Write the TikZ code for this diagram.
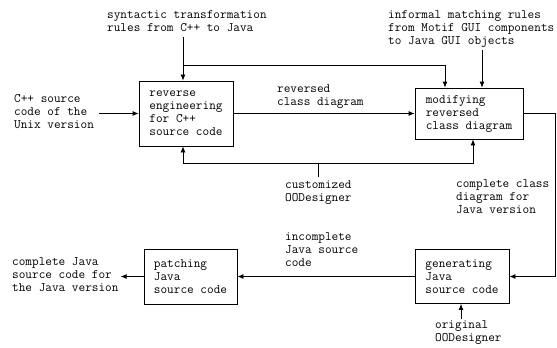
\documentclass[tikz,border=0pt]{standalone}
\usepackage{fontspec}
\usetikzlibrary{arrows.meta}
\begin{document}
\begin{tikzpicture}[x=1pt,y=-1pt,
  txt/.style={font=\ttfamily\fontsize{12.9}{13}\selectfont, align=left},
  lbl/.style={txt, inner sep=0pt, anchor=north west},
  box/.style={txt, draw, line width=0.8pt, inner sep=0pt},
  ln/.style={line width=0.8pt},
  arr/.style={ln, -{Latex[length=6pt,width=5pt]}}]
\path[use as bounding box, fill=white] (0,0) rectangle (557,348);

% boxes
\node[box, minimum width=94pt, minimum height=65pt] (b1) at (186,113.5) {reverse\\engineering\\for C++\\source code};
\node[box, minimum width=108pt, minimum height=51pt] (b2) at (469,113.5) {modifying\\reversed\\class diagram};
\node[box, minimum width=93pt, minimum height=55pt] (b3) at (190.5,276.5) {patching\\Java\\source code};
\node[box, minimum width=94pt, minimum height=54pt] (b4) at (462,276.5) {generating\\Java\\source code};

% labels
\node[lbl] (syn) at (107,10.5) {syntactic transformation\\rules from C++ to Java};
\node[lbl] (cpp) at (14,94.5) {C++ source\\code of the\\Unix version};
\node[lbl] (rev) at (277,84.5) {reversed\\class diagram};
\node[lbl] (inf) at (388,10.5) {informal matching rules\\from Motif GUI components\\to Java GUI objects};
\node[lbl] (cust) at (285,180.5) {customized\\OODesigner};
\node[lbl] (ccd) at (456,179.5) {complete class\\diagram for\\Java version};
\node[lbl] (inc) at (285,232.5) {incomplete\\Java source\\code};
\node[lbl] (orig) at (435,320.5) {original\\OODesigner};
\node[lbl] (out) at (12,257.5) {complete Java\\source code for\\the Java version};

% helper coordinates
\coordinate (xa) at (183,0);
\coordinate (xb) at (445,0);
\coordinate (xc) at (482,0);
\coordinate (j1) at (183,65);
\coordinate (jm) at (318,163);
\coordinate (jl) at (183,163);
\coordinate (jr) at (473,163);
\coordinate (xr) at (555,0);
\coordinate (xe) at (461,0);
\coordinate (cs) at (99,0);
\coordinate (yo) at (0,319);
\coordinate (ys) at (0,37);
\coordinate (yi) at (0,50);
\coordinate (yc) at (0,177);

% connectors
\draw[arr] (xa |- ys) -- (xa |- b1.north);
\draw[arr] (j1) -| (xb |- b2.north);
\draw[arr] (xc |- yi) -- (xc |- b2.north);
\draw[arr] (cs |- b1.west) -- (b1.west);
\draw[arr] (b1.east) -- (b2.west);
\draw[ln] (jm |- yc) -- (jm);
\draw[arr] (jm) -| (jl |- b1.south);
\draw[arr] (jm) -| (jr |- b2.south);
\draw[arr] (b2.east) -- (b2.east -| xr) |- (b4.east);
\draw[arr] (b4.west) -- (b3.east);
\draw[arr] (b3.west) -- ([xshift=2pt]b3.west -| out.east);
\draw[arr] (xe |- yo) -- (xe |- b4.south);
\end{tikzpicture}
\end{document}
